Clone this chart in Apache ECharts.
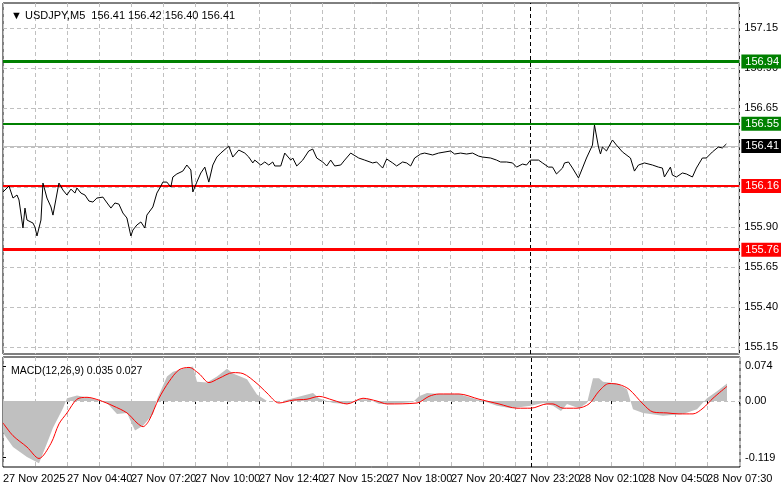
<!DOCTYPE html>
<html><head><meta charset="utf-8">
<script src="https://cdn.jsdelivr.net/npm/echarts@6/dist/echarts.min.js"></script>
<style>html,body{margin:0;padding:0;background:#fff}#c{width:781px;height:489px}</style>
</head><body><div id="c"></div>
<script>
const timeLabels = ['27 Nov 2025','27 Nov 04:40','27 Nov 07:20','27 Nov 10:00','27 Nov 12:40','27 Nov 15:20','27 Nov 18:00','27 Nov 20:40','27 Nov 23:20','28 Nov 02:10','28 Nov 04:50','28 Nov 07:30'];
const priceTicks = [157.15,156.90,156.65,156.40,156.15,155.90,155.65,155.40,155.15];
const macdTicks = [0.074,0.00,-0.119];
const priceIdx = [0,3,5,7,8,10,11,12,15,16,17,19,20,22,24,25,28,30,32,34,36,37,39,41,43,45,47,50,51,54,56,58,60,62,64,65,67,69,71,72,75,77,79,80,82,84,85,87,90,92,94,95,97,99,101,103,105,107,109,110,113,115,118,121,123,125,126,129,131,133,135,136,139,141,144,145,147,150,153,155,157,160,162,164,166,169,171,174,175,178,181,185,187,190,192,195,197,200,202,204,206,209,211,215,218,224,226,229,232,235,238,240,244,247,249,252,255,257,260,262,264,268,270,273,275,277,280,281,283,285,288,290,292,295,296,298,299,300,302,305,307,310,314,316,318,321,325,328,330,331,334,335,337,340,342,345,347,350,352,355,356,358,360,362];
const priceVal = [156.122,156.159,156.084,156.103,156.072,155.896,156.021,155.946,155.927,155.902,155.846,155.946,156.178,156.084,156.028,155.977,156.178,156.134,156.103,156.140,156.115,156.147,156.115,156.103,156.065,156.059,156.084,156.090,156.072,156.021,156.053,156.046,155.990,155.959,155.846,155.883,155.915,155.934,155.896,155.977,156.028,156.115,156.159,156.184,156.184,156.153,156.216,156.235,156.253,156.291,156.260,156.122,156.184,156.241,156.278,156.184,156.291,156.341,156.366,156.373,156.410,156.341,156.385,156.366,156.341,156.304,156.322,156.291,156.310,156.291,156.310,156.285,156.285,156.366,156.322,156.335,156.285,156.322,156.379,156.391,156.335,156.310,156.285,156.322,156.285,156.291,156.322,156.366,156.366,156.335,156.322,156.304,156.310,156.272,156.329,156.304,156.285,156.310,156.304,156.285,156.335,156.360,156.366,156.354,156.366,156.379,156.360,156.366,156.360,156.366,156.347,156.341,156.335,156.322,156.310,156.310,156.304,156.278,156.297,156.291,156.322,156.322,156.304,156.278,156.278,156.235,156.272,156.304,156.310,156.272,156.210,156.272,156.335,156.416,156.542,156.404,156.360,156.404,156.379,156.448,156.416,156.373,156.335,156.253,156.291,156.304,156.291,156.278,156.272,156.216,156.278,156.228,156.216,156.241,156.235,156.216,156.272,156.335,156.335,156.373,156.385,156.404,156.398,156.423];
const levelsGreen = [156.94,156.55];
const levelsRed = [156.16,155.76];
const lastPrice = 156.41;
const histIdx = [0,1,5,12,18,22,25,30,32,37,44,52,57,62,66,70,75,77,82,85,90,95,97,102,107,112,115,122,127,132,140,145,155,158,165,172,178,183,188,194,205,208,212,218,228,235,240,247,254,264,270,275,279,282,288,292,295,298,300,307,312,315,320,330,340,347,352,357,362];
const histVal = [-0.065,-0.073,-0.097,-0.118,-0.131,-0.089,-0.056,-0.015,0.006,0.012,0.006,-0.004,-0.027,-0.025,-0.062,-0.052,-0.027,0.004,0.052,0.062,0.068,0.073,0.041,0.039,0.052,0.068,0.058,0.046,0.014,0,0,0.006,0.017,0.006,-0.004,-0.006,0.004,0.004,-0.006,-0.006,-0.002,0.010,0.017,0.015,0.015,0.006,0,-0.010,-0.015,-0.010,-0.004,-0.010,-0.021,-0.006,-0.015,-0.004,0.048,0.048,0.041,0.037,0.025,-0.017,-0.025,-0.031,-0.027,-0.017,0.006,0.021,0.037];
const sigIdx = [0,5,12,18,24,28,32,37,42,48,55,62,67,70,73,78,83,88,93,98,103,108,115,120,127,132,138,145,152,158,165,172,180,187,192,207,213,218,228,238,248,257,264,272,275,280,287,293,298,303,308,313,320,325,332,338,345,350,355,362];
const sigVal = [-0.046,-0.073,-0.097,-0.121,-0.089,-0.048,-0.025,0.004,0.008,0.002,-0.010,-0.025,-0.046,-0.054,-0.041,0.006,0.041,0.066,0.071,0.058,0.039,0.048,0.060,0.058,0.037,0.017,-0.004,0.002,0.004,0.010,0.002,-0.006,0.006,0,-0.006,-0.004,0.010,0.015,0.015,0.004,-0.006,-0.015,-0.015,-0.006,-0.006,-0.015,-0.015,-0.006,0.021,0.037,0.035,0.025,-0.006,-0.023,-0.025,-0.027,-0.027,-0.015,0.006,0.031];
const sepIdx = 264;

const FONT = 'Liberation Sans';
const zip = (a,b)=>a.map((v,i)=>[v,b[i]]);
const lvl = (v,col,w,lblBg)=>({yAxis:v,lineStyle:{color:col,width:w,type:'solid'},
  label:{show:!!lblBg,position:'end',distance:2,formatter:v.toFixed(2),color:'#fff',backgroundColor:lblBg,padding:[2,5,1,4],fontFamily:FONT,fontSize:11}});
const chart = echarts.init(document.getElementById('c'));
chart.setOption({
  animation:false,
  textStyle:{fontFamily:FONT},
  title:[
    {text:'▼ USDJPY,M5  156.41 156.42 156.40 156.41',left:6,top:5,textStyle:{fontSize:11,fontWeight:'normal',color:'#000',fontFamily:FONT}},
    {text:'MACD(12,26,9) 0.035 0.027',left:6,top:361,textStyle:{fontSize:10.5,fontWeight:'normal',color:'#000',fontFamily:FONT}}
  ],
  grid:[
    {left:3,right:41,top:3,height:351,show:true,borderColor:'#000',borderWidth:1,backgroundColor:'#fff'},
    {left:3,right:41,top:357,height:110,show:true,borderColor:'#000',borderWidth:1,backgroundColor:'#fff'}
  ],
  xAxis:[
    {gridIndex:0,type:'value',min:0,max:368.5,interval:16,axisLabel:{show:false},axisTick:{show:false},axisLine:{show:false},
      splitLine:{show:true,lineStyle:{color:'#c0c0c0',type:[4,3]}}},
    {gridIndex:1,type:'value',min:0,max:368.5,interval:16,axisLine:{show:false},
      axisTick:{show:true,length:3,lineStyle:{color:'#000'}},
      axisLabel:{show:true,align:'left',margin:6,color:'#000',fontSize:11,fontFamily:FONT,showMaxLabel:false,
        formatter:v=>(v%32===0 && timeLabels[v/32])?timeLabels[v/32]:''},
      splitLine:{show:true,lineStyle:{color:'#c0c0c0',type:[4,3]}}}
  ],
  yAxis:[
    {gridIndex:0,type:'value',position:'right',min:155.106,max:157.307,splitLine:{show:false},axisLine:{show:false},
      axisTick:{show:true,customValues:priceTicks,length:3,lineStyle:{color:'#000'}},
      axisLabel:{show:true,customValues:priceTicks,formatter:v=>v.toFixed(2),color:'#000',fontSize:11,fontFamily:FONT,margin:5}},
    {gridIndex:1,type:'value',position:'right',min:-0.139,max:0.093,splitLine:{show:false},axisLine:{show:false},
      axisTick:{show:true,customValues:macdTicks,length:3,lineStyle:{color:'#000'}},
      axisLabel:{show:true,customValues:macdTicks,formatter:v=>v===0?'0.00':v.toFixed(3),color:'#000',fontSize:11,fontFamily:FONT,margin:5}}
  ],
  series:[
    {type:'line',xAxisIndex:0,yAxisIndex:0,data:[],silent:true,
      markLine:{symbol:'none',silent:true,label:{show:false},
        data:priceTicks.map(v=>({yAxis:v,lineStyle:{color:'#c0c0c0',type:[4,3],width:1}}))}},
    {type:'line',xAxisIndex:0,yAxisIndex:0,data:zip(priceIdx,priceVal),showSymbol:false,
      lineStyle:{color:'#000',width:1},z:5,
      markLine:{symbol:'none',silent:true,animation:false,
        data:[
          {xAxis:sepIdx,lineStyle:{color:'#000',type:[4,3],width:1},label:{show:false}},
          lvl(lastPrice,'#c0c0c0',1,'#000'),
          lvl(levelsGreen[0],'#008000',3,'#008000'),
          lvl(levelsGreen[1],'#008000',2,'#008000'),
          lvl(levelsRed[0],'#ff0000',2,'#ff0000'),
          lvl(levelsRed[1],'#ff0000',3,'#ff0000')
        ]}},
    {type:'line',xAxisIndex:1,yAxisIndex:1,data:zip(histIdx,histVal),showSymbol:false,
      lineStyle:{width:0},areaStyle:{color:'#c0c0c0',opacity:1,origin:0},
      markLine:{symbol:'none',silent:true,label:{show:false},data:[
        {yAxis:0,lineStyle:{color:'#c0c0c0',type:[4,3],width:1}},
        {xAxis:sepIdx,lineStyle:{color:'#000',type:[4,3],width:1}}]}},
    {type:'line',xAxisIndex:1,yAxisIndex:1,data:zip(sigIdx,sigVal),showSymbol:false,smooth:0.3,
      lineStyle:{color:'#ff0000',width:1},z:5}
  ]
});
</script></body></html>
